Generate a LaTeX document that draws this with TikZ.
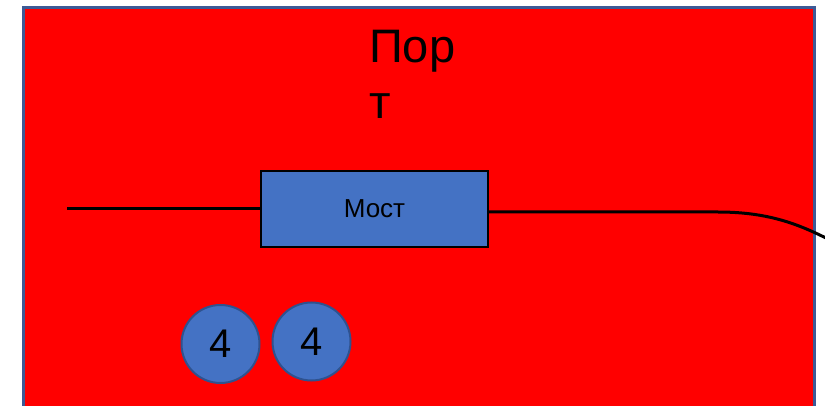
\documentclass[tikz,border=0pt]{standalone}
\usepackage{fontspec}
\setmainfont{Liberation Sans}
\usetikzlibrary{positioning}
\definecolor{bgred}{RGB}{255,0,0}
\definecolor{boxblue}{RGB}{68,114,196}
\definecolor{frameblue}{RGB}{61,90,150}
\definecolor{ringblue}{RGB}{47,82,143}

\begin{document}
\begin{tikzpicture}[x=1pt,y=-1pt,
  bridge/.style={draw=black,line width=2pt,fill=boxblue,minimum width=227pt,minimum height=76pt,inner sep=0pt,font=\fontsize{26}{30}\selectfont},
  pier/.style={circle,draw=ringblue,line width=2pt,fill=boxblue,minimum size=78pt,inner sep=0pt,font=\fontsize{40}{46}\selectfont},
  wire/.style={line width=3pt,black}]
\useasboundingbox (0,0) rectangle (825,406);
\draw[fill=bgred,draw=frameblue,line width=3pt] (23.5,7.5) rectangle (814.5,420);

\node[anchor=north west,align=left,inner sep=0pt,font=\fontsize{47}{56}\selectfont] (port) at (369,29.7) {Пор\\т};

\node[bridge] (most) at (374.5,209) {Мост};

% Piers under the bridge
\foreach \pos/\name in {{(220.5,344)/pa}, {(311.5,341.5)/pb}}
\node[pier] (\name) at \pos {4};

% Road through the bridge
\coordinate (roadl) at (67,209);
\coordinate (roadm) at (718,212);
\coordinate (roadr) at (830,240);
\draw[wire] (roadl) -- (most.west);
\draw[wire] (most.east |- roadm) -- (roadm) .. controls (770,212) and (800,225) .. (roadr);
\end{tikzpicture}
\end{document}
